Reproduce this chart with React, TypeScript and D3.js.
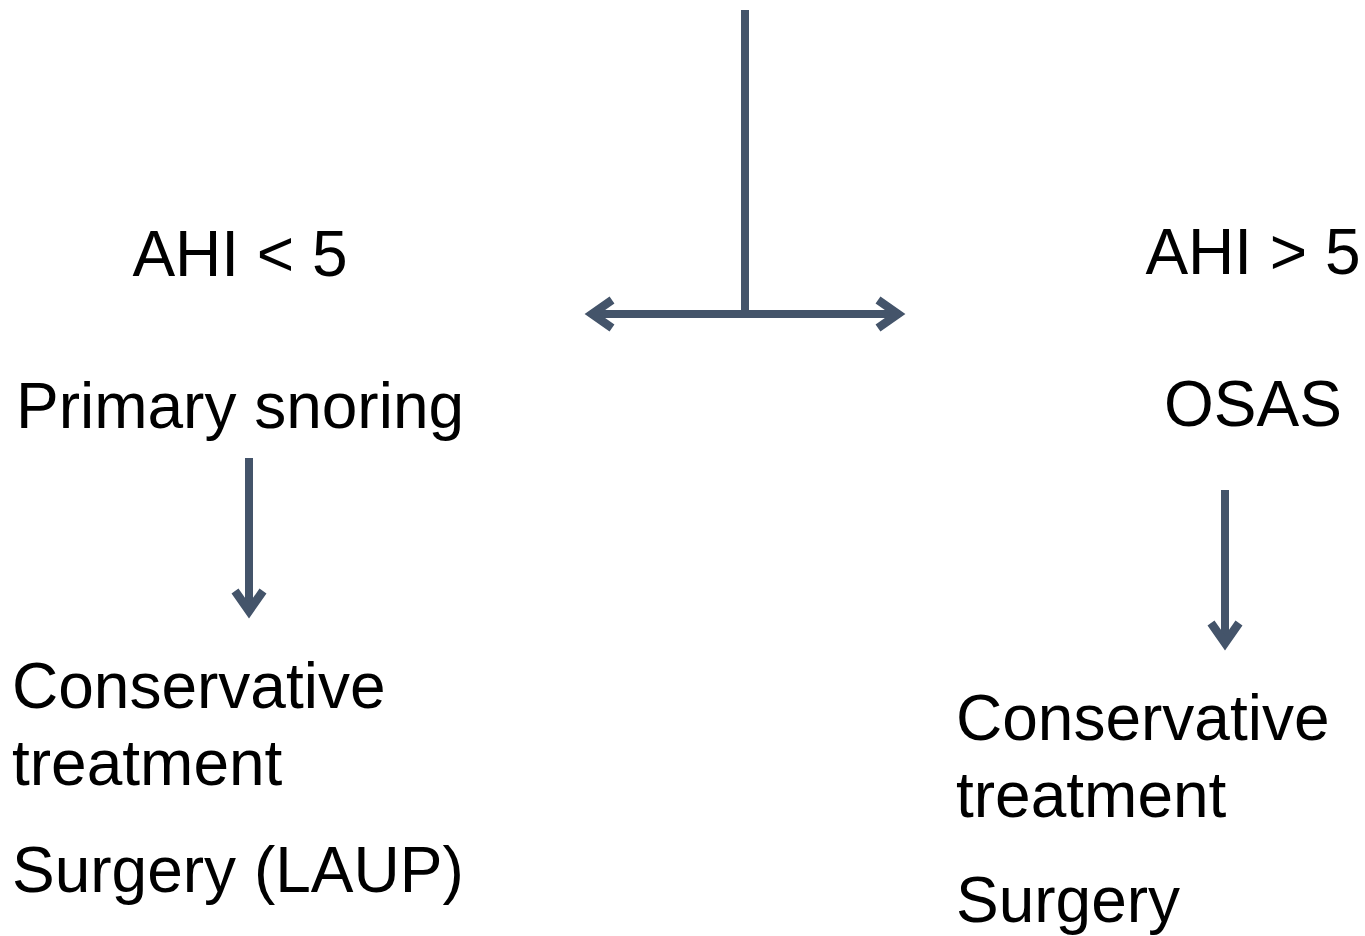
import React from 'react';
import * as d3 from 'd3';

const W = 1365;
const H = 936;
const color = '#44546a';
const font = '"Liberation Sans", Arial, sans-serif';

const leftLabels = ['AHI < 5', 'Primary snoring'];
const rightLabels = ['AHI > 5', 'OSAS'];
const leftOutcomes = ['Conservative', 'treatment', 'Surgery (LAUP)'];
const rightOutcomes = ['Conservative', 'treatment', 'Surgery'];

const labelBaselines = [276, 428];
const leftOutcomeBaselines = [708, 785, 892];
const rightOutcomeBaselines = [740, 817, 922];

// connector segments
const stem = [[745, 10], [745, 314]];
const split = [[592, 314], [898, 314]];
const downLeft = [[249, 458], [249, 611]];
const downRight = [[1225, 490], [1225, 643]];

const line = d3.line();

// V-shaped head at a point, pointing in direction angle (deg)
function head(x: number, y: number, angle: number) {
  const p = line([[-20, -14], [0, 0], [-20, 14]]) || '';
  return (
    <path
      d={p}
      transform={`translate(${x},${y}) rotate(${angle})`}
      fill="none"
      stroke={color}
      strokeWidth={8.5}
      strokeLinejoin="miter"
    />
  );
}

export default function App() {
  return (
    <svg width={W} height={H} style={{position: 'absolute', left: 0, top: 0}} fontFamily={font}>
      <rect width={W} height={H} fill="#ffffff" />
      <g stroke={color} strokeWidth={8} fill="none">
        <path d={line(stem as any) || ''} />
        <path d={line(split as any) || ''} />
        <path d={line(downLeft as any) || ''} />
        <path d={line(downRight as any) || ''} />
      </g>
      {head(split[0][0], split[0][1], 180)}
      {head(split[1][0], split[1][1], 0)}
      {head(downLeft[1][0], downLeft[1][1], 90)}
      {head(downRight[1][0], downRight[1][1], 90)}

      <g fontSize={64} fill="#000">
        {leftLabels.map((t, i) => (
          <text key={t} x={240} y={labelBaselines[i]} textAnchor="middle">{t}</text>
        ))}
        {rightLabels.map((t, i) => (
          <text key={t} x={1253} y={labelBaselines[i] - 2} textAnchor="middle">{t}</text>
        ))}
        {leftOutcomes.map((t, i) => (
          <text key={t} x={12} y={leftOutcomeBaselines[i]}>{t}</text>
        ))}
        {rightOutcomes.map((t, i) => (
          <text key={t} x={956} y={rightOutcomeBaselines[i]}>{t}</text>
        ))}
      </g>
    </svg>
  );
}
